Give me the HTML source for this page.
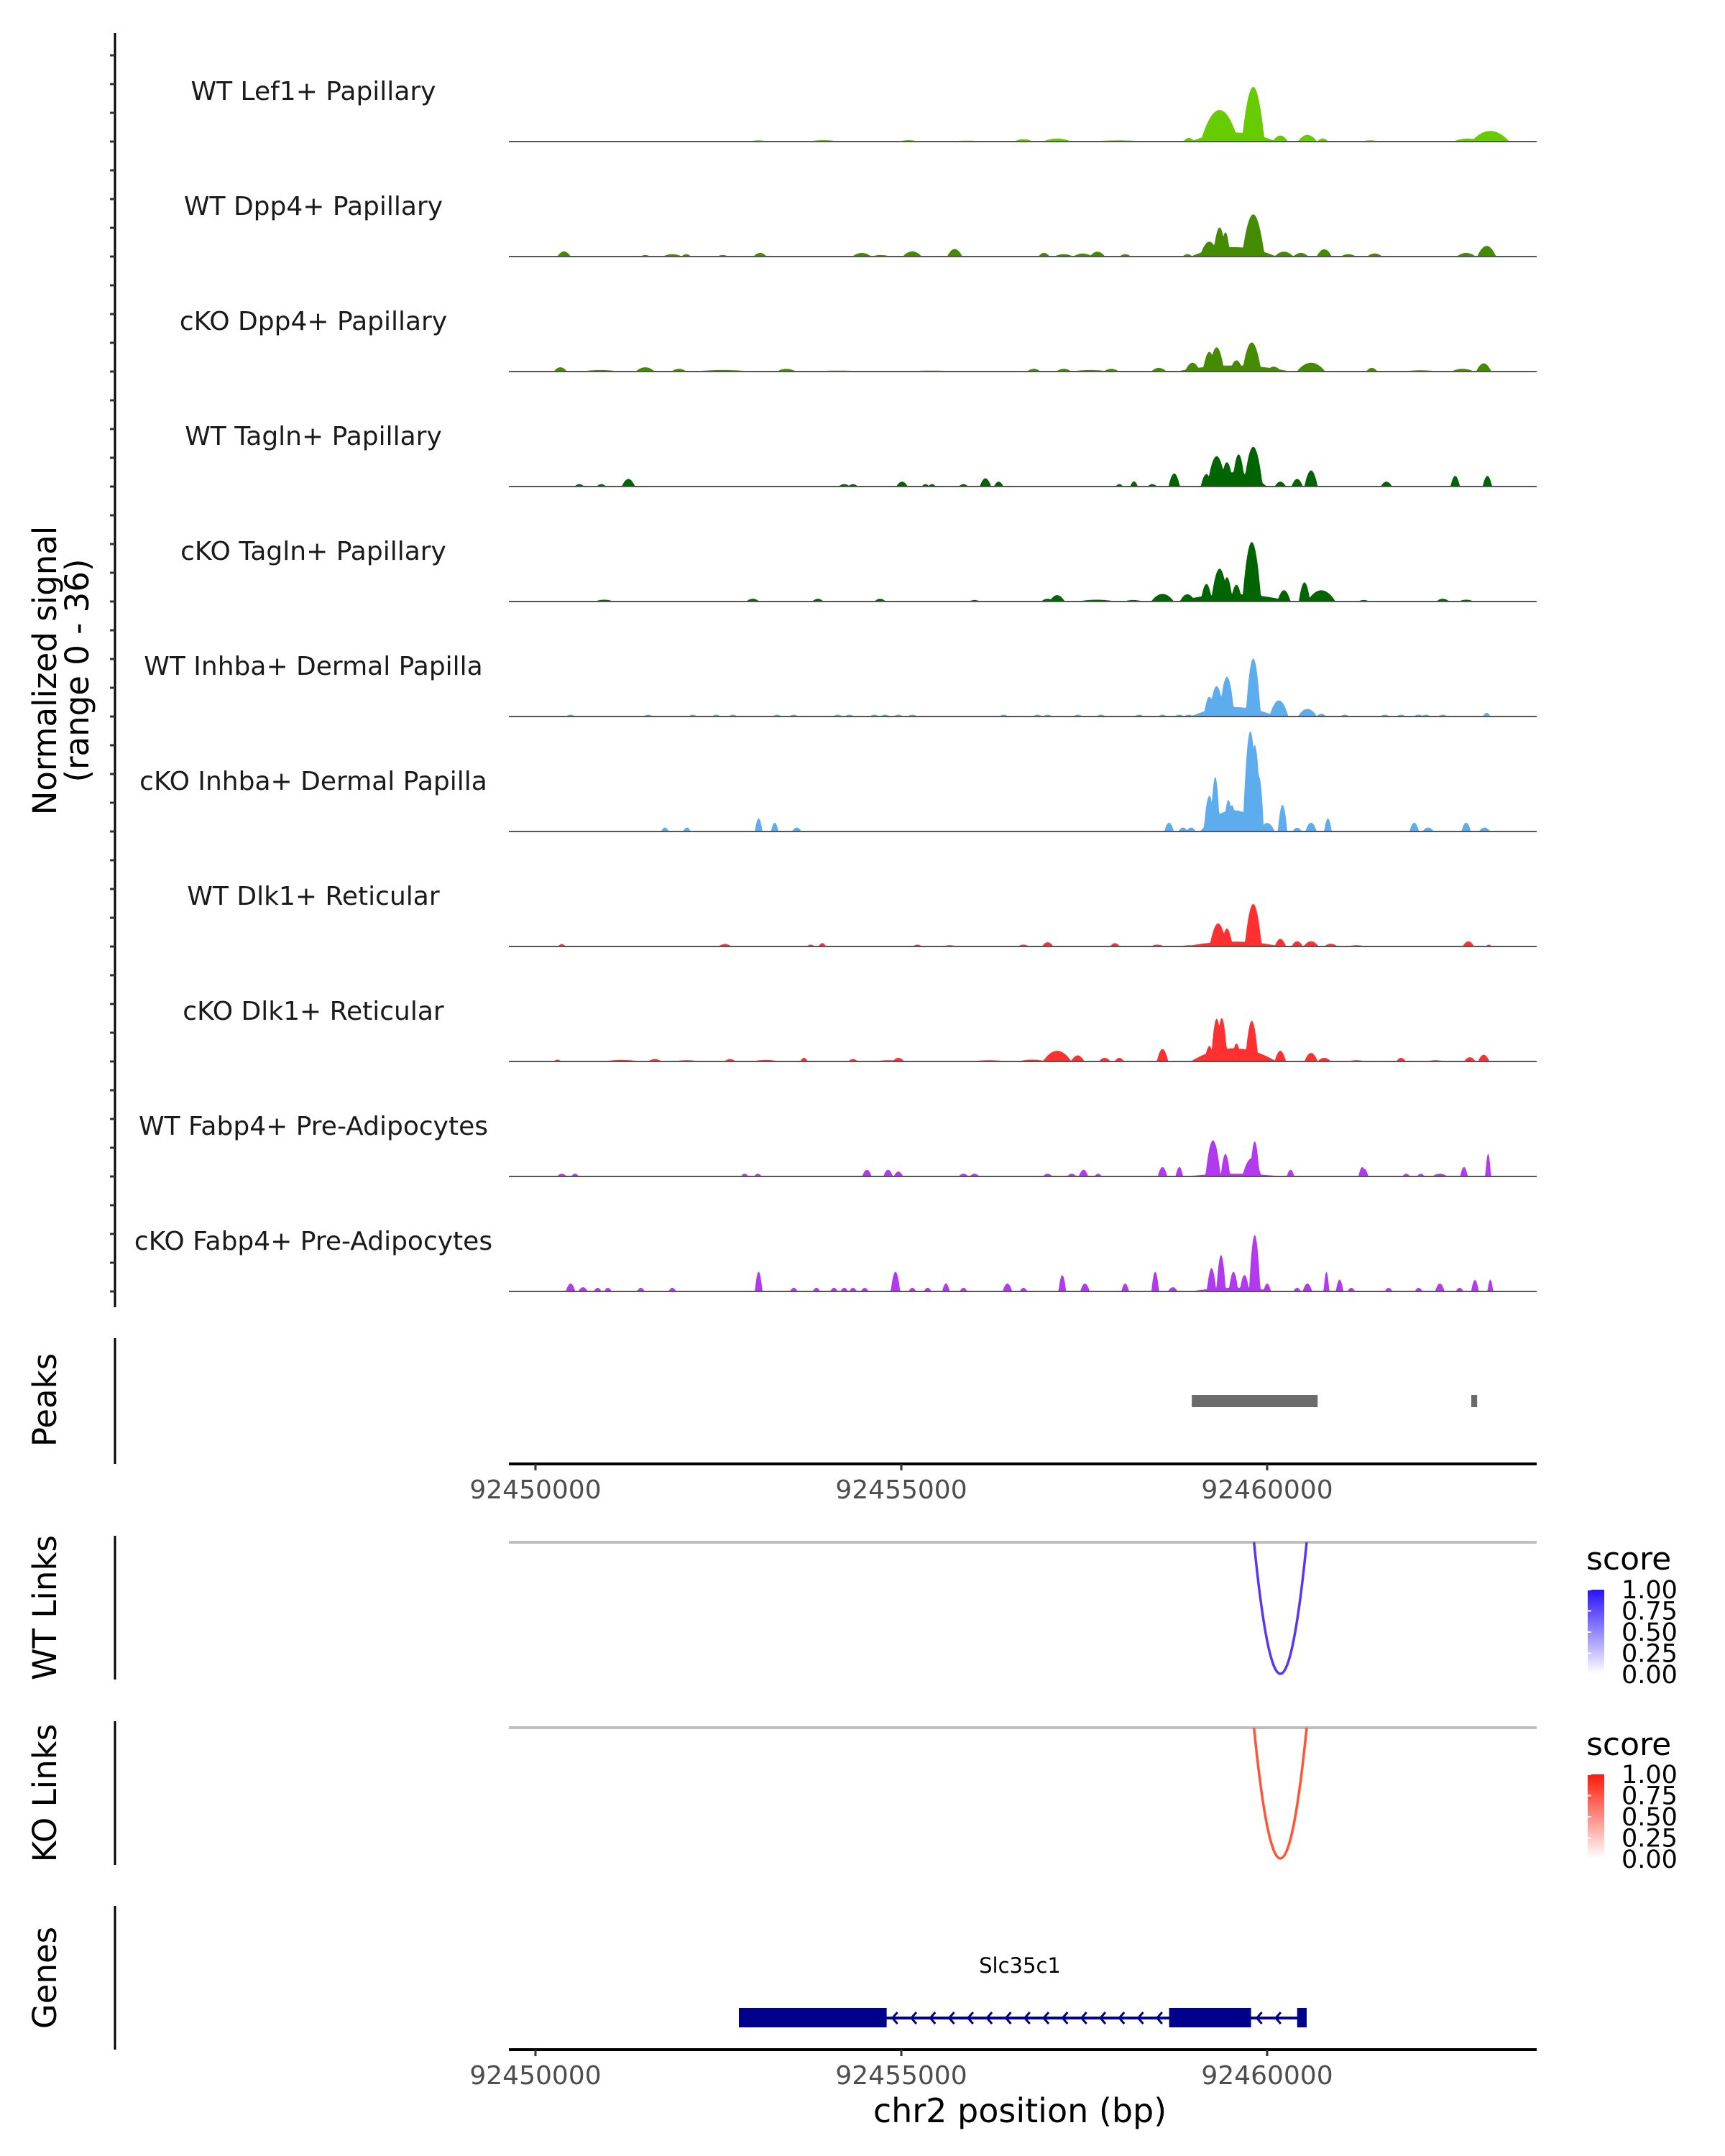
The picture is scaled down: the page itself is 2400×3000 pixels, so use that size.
<!DOCTYPE html>
<html><head><meta charset="utf-8"><style>
html,body{margin:0;padding:0;background:#fff;}
svg{display:block;font-family:"DejaVu Sans","Liberation Sans",sans-serif;}
</style></head><body>
<svg id="fig" width="2400" height="3000" viewBox="0 0 2400 3000" xmlns="http://www.w3.org/2000/svg">
<defs>
<linearGradient id="gBlue" x1="0" y1="1" x2="0" y2="0"><stop offset="0" stop-color="#ffffff"/><stop offset="1" stop-color="#2a10ff"/></linearGradient>
<linearGradient id="gRed" x1="0" y1="1" x2="0" y2="0"><stop offset="0" stop-color="#ffffff"/><stop offset="1" stop-color="#ff1a08"/></linearGradient>
</defs>
<text transform="translate(78,933) rotate(-90)" text-anchor="middle" font-size="45" fill="#000">Normalized signal</text>
<text transform="translate(123,933) rotate(-90)" text-anchor="middle" font-size="45" fill="#000">(range 0 - 36)</text>
<line x1="160" y1="46" x2="160" y2="1819" stroke="#000" stroke-width="3"/>
<text transform="translate(78,1948) rotate(-90)" text-anchor="middle" font-size="45">Peaks</text>
<line x1="160" y1="1862" x2="160" y2="2037" stroke="#000" stroke-width="3"/>
<text transform="translate(78,2237) rotate(-90)" text-anchor="middle" font-size="45">WT Links</text>
<line x1="160" y1="2137" x2="160" y2="2337" stroke="#000" stroke-width="3"/>
<text transform="translate(78,2495) rotate(-90)" text-anchor="middle" font-size="45">KO Links</text>
<line x1="160" y1="2395" x2="160" y2="2595" stroke="#000" stroke-width="3"/>
<text transform="translate(78,2752) rotate(-90)" text-anchor="middle" font-size="45">Genes</text>
<line x1="160" y1="2652" x2="160" y2="2852" stroke="#000" stroke-width="3"/>
<text x="1419" y="2953" text-anchor="middle" font-size="46">chr2 position (bp)</text>
<g>
<text x="2207" y="2184" font-size="44">score</text>
<rect x="2209" y="2212" width="23" height="117" fill="url(#gBlue)"/>
</g>
<g>
<text x="2207" y="2442" font-size="44">score</text>
<rect x="2209" y="2469" width="23" height="117" fill="url(#gRed)"/>
</g>
<g id="dyn"></g>
</svg>
<script>
const trackNames = ["WT Lef1+ Papillary","WT Dpp4+ Papillary","cKO Dpp4+ Papillary","WT Tagln+ Papillary","cKO Tagln+ Papillary","WT Inhba+ Dermal Papilla","cKO Inhba+ Dermal Papilla","WT Dlk1+ Reticular","cKO Dlk1+ Reticular","WT Fabp4+ Pre-Adipocytes","cKO Fabp4+ Pre-Adipocytes"];
const trackColors = ["#66cc00","#458b00","#458b00","#006400","#006400","#5cacee","#5cacee","#ff3030","#ff3030","#b23aee","#b23aee"];
// peaks: [kb offset from 92450000, signal, half-width kb]
const lef1WT = [[9.81,18,.12],[9.35,10.4,.2],[9.54,3.0,.45],[10.18,2,.08],[10.55,2.2,.1],[8.93,1.2,.06],[10.76,1,.06],[7.13,1,.15],[6.67,.8,.1],[13.05,3.5,.2],[12.74,1,.15],[5.10,.5,.1],[3.94,.5,.15],[3.05,.4,.1],[7.97,.4,.3],[11.41,.4,.1],[5.9,.3,.2]];
const dpp4WT = [[9.81,13.9,.12],[9.35,9.6,.07],[9.43,8,.05],[9.21,4.9,.1],[9.54,3.1,.45],[10.78,2.4,.08],[10.23,1.6,.1],[10.46,1.2,.08],[11.47,1,.08],[11.11,.8,.08],[13.0,3.5,.1],[12.72,1.2,.1],[0.39,1.7,.07],[5.73,2.5,.08],[5.15,1.7,.1],[4.46,1.2,.1],[3.07,1.2,.07],[7.68,1.6,.08],[7.22,.8,.1],[6.95,1.2,.06],[8.06,.8,.06],[8.91,.8,.05],[1.87,.8,.1],[2.06,.8,.05],[1.5,.5,.05],[2.56,.5,.06],[4.72,.5,.1],[7.48,1,.1]];
const dpp4KO = [[9.79,9.6,.1],[9.31,8,.08],[9.21,6.5,.07],[9.58,3.7,.07],[8.98,2.9,.08],[9.54,2,.6],[10.6,2.9,.15],[10.09,1.6,.08],[12.96,2.7,.08],[12.67,.9,.12],[0.34,1.4,.07],[1.5,1.4,.1],[1.96,.9,.08],[3.43,.9,.1],[6.81,.9,.07],[7.22,.9,.08],[7.87,.9,.08],[8.52,1.2,.08],[11.43,1.2,.06],[0.89,.5,.2],[2.56,.5,.3],[4.13,.3,.3],[5.41,.3,.3],[7.58,.5,.2],[12.1,.4,.2]];
const taglnWT = [[9.81,13.1,.1],[9.61,10.6,.07],[9.31,10,.1],[9.45,8,.07],[9.17,4.1,.06],[9.54,4.7,.35],[10.6,5.3,.07],[8.73,4.3,.06],[10.41,2.5,.06],[10.18,1.6,.06],[12.57,3.5,.05],[13.01,3.5,.05],[11.63,1.6,.06],[6.15,2.7,.06],[6.33,1.6,.05],[5.01,1.6,.06],[1.27,2.5,.07],[0.6,.8,.05],[0.9,.8,.05],[4.22,.8,.06],[4.34,.8,.05],[5.33,.8,.04],[5.42,.8,.04],[5.85,.8,.05],[7.98,.8,.04],[8.18,1.7,.04],[8.43,.8,.05]];
const taglnKO = [[9.79,19.6,.1],[9.35,10.8,.09],[9.45,8,.06],[9.58,5.5,.06],[9.17,5.8,.06],[9.54,2.4,.6],[10.51,6.3,.06],[10.74,3.7,.15],[10.23,3.7,.07],[8.57,2.5,.12],[8.91,2.4,.08],[7.13,2.1,.08],[7.0,.9,.07],[2.97,.9,.07],[3.86,.9,.06],[4.71,.9,.06],[0.94,.6,.1],[12.4,.9,.07],[12.72,.6,.08],[6.0,.5,.06],[7.67,.6,.2],[8.17,.5,.1],[11.32,.5,.06]];
const inhbaWT = [[9.81,19.1,.08],[9.45,13.1,.08],[9.31,10,.08],[9.21,6.5,.06],[9.54,3.1,.45],[10.16,5.3,.1],[10.55,2.5,.1],[10.74,.9,.05],[13.0,1.2,.04]];
const inhbaWTSmall = [0.48,1.54,2.15,2.47,2.7,3.3,3.53,4.13,4.29,4.63,4.78,4.96,5.15,6.4,6.86,7.0,7.41,7.73,8.25,8.57,8.8,8.93,11.06,11.61,11.83,12.07,12.17,12.4];
const inhbaKO = [[9.77,33,.08],[9.83,28.5,.07],[9.89,18,.05],[9.29,18,.05],[9.21,11.8,.06],[9.47,10.4,.05],[9.52,8.7,.05],[9.54,7,.35],[10.0,2.8,.08],[10.21,8.8,.05],[10.6,2.9,.06],[10.83,4.3,.04],[10.41,1.2,.05],[8.66,2.9,.05],[8.85,1.3,.05],[8.96,1.3,.05],[3.05,4.3,.04],[3.27,2.9,.04],[3.57,1.3,.05],[1.77,1.3,.04],[2.07,1.3,.04],[12.01,2.9,.05],[12.2,1.3,.06],[12.72,2.9,.05],[12.97,1.3,.06]];
const dlk1WT = [[9.81,14,.09],[9.33,7.6,.09],[9.45,5.9,.06],[9.54,1.6,.5],[10.18,2.5,.06],[10.41,1.7,.06],[10.6,1.7,.08],[10.87,.9,.07],[12.75,1.7,.06],[13.03,.6,.03],[7.0,1.4,.06],[7.92,1.1,.05],[8.5,.6,.07],[6.67,.6,.06],[5.22,.6,.05],[3.92,1.1,.04],[3.76,.6,.04],[2.59,.8,.07],[0.36,.8,.04],[5.66,.4,.08],[8.93,.4,.1],[11.22,.4,.1]];
const dlk1KO = [[9.38,14.3,.06],[9.31,14.1,.06],[9.79,13.4,.07],[9.21,5.1,.05],[9.54,4.3,.45],[9.58,5.9,.05],[8.57,4.1,.06],[7.13,3.5,.15],[7.41,2,.07],[7.78,1.2,.06],[7.98,1.2,.05],[10.18,3.5,.06],[10.6,2.8,.07],[10.78,1.2,.07],[12.96,2.2,.06],[12.77,1.4,.06],[11.83,1.2,.05],[4.96,1.2,.06],[3.67,1.2,.04],[4.34,.8,.05],[2.66,.8,.06],[1.63,.8,.07],[0.3,.6,.04],[1.18,.5,.2],[2.07,.4,.15],[3.15,.5,.15],[4.82,.4,.15],[6.2,.4,.2],[6.79,.6,.15],[11.22,.4,.1],[12.3,.4,.1]];
const fabp4WT = [[9.26,11.9,.08],[9.83,11.6,.05],[9.43,7.4,.05],[9.79,6,.1],[9.54,.9,.5],[8.57,3.1,.05],[8.8,3.1,.04],[13.02,7.5,.03],[12.69,3.1,.04],[10.32,2.2,.04],[11.3,3.1,.04],[11.33,2.5,.04],[11.9,.9,.04],[12.1,.9,.04],[12.36,.9,.08],[4.53,2.2,.05],[4.82,2.2,.05],[4.96,1.6,.05],[7.49,2.2,.05],[7.0,.9,.05],[7.69,.9,.04],[5.85,.9,.05],[6.0,.9,.05],[0.36,.9,.05],[0.54,.9,.04],[2.86,.9,.04],[3.04,.9,.04],[7.33,.9,.05]];
const fabp4KO = [[9.83,18.6,.06],[9.37,12,.05],[9.54,6.5,.05],[9.24,7.7,.05],[9.69,5.4,.05],[9.54,1.2,.45],[8.47,6.5,.04],[7.2,5.4,.04],[4.92,6.5,.05],[3.05,6.5,.04],[10.81,6.5,.03],[10.99,3.9,.04],[10.55,2.6,.05],[10.0,2.6,.04],[13.05,3.9,.03],[12.84,3.8,.04],[12.36,2.6,.05],[7.51,2.6,.05],[8.06,2.6,.04],[8.71,1.4,.05],[6.45,2.6,.05],[5.61,2.6,.04],[0.48,2.6,.05],[0.65,1.4,.05]];
const fabp4KOSmall = [0.85,0.99,1.44,1.87,3.53,3.84,4.08,4.22,4.34,4.5,5.15,5.36,5.85,6.67,10.41,11.15,11.66,12.07,12.63];
const peakRegions = [[8.97,10.69],[12.79,12.87]];
const wtLinks = [[9.82,10.54,0.8]];
const koLinks = [[9.82,10.54,0.8]];
const geneExons = [[2.78,4.80],[8.66,9.78],[10.41,10.54]];
const geneSpan = [2.78,10.54];
const xTicks = [92450000,92455000,92460000];
const legendTicks = ["1.00","0.75","0.50","0.25","0.00"];
const yMax = 36;

const trackPeaks = [lef1WT,dpp4WT,dpp4KO,taglnWT,taglnKO,
  inhbaWT.concat(inhbaWTSmall.map(p=>[p,0.6,0.05])),
  inhbaKO,dlk1WT,dlk1KO,fabp4WT,
  fabp4KO.concat(fabp4KOSmall.map(p=>[p,1.2,0.04]))];

const NS="http://www.w3.org/2000/svg";
const root=document.getElementById('dyn');
const PX0=708, PX1=2138;
const xKb = kb => 745 + kb*101.8;
const xBp = bp => xKb((bp-92450000)/1000);
const base = i => 197 + 160*i;
const ySig = (i,v) => base(i) - v*152/yMax;
function mk(tag,attrs,parent){const e=document.createElementNS(NS,tag);for(const k in attrs)e.setAttribute(k,attrs[k]);(parent||root).appendChild(e);return e;}

for(let i=0;i<trackNames.length;i++){
  for(let k=0;k<4;k++){
    const t=mk('line',{x1:153,x2:160,y1:base(i)-40*k,y2:base(i)-40*k,stroke:'#333',"stroke-width":3});
    
    
  }
}
trackNames.forEach((name,i)=>{
  const g=mk('g',{});
  
  
  const lbl=mk('text',{x:436,y:base(i)-58,"text-anchor":"middle","font-size":36,fill:'#1a1a1a'},g);
  lbl.textContent=name;
  
  
  const pk=trackPeaks[i];
  let pts=[PX0+','+base(i)];
  for(let px=PX0;px<=PX1;px+=1){
    const kb=(px-745)/101.8;
    let v=0;
    for(const p of pk){const w=p[2]*1.3;const d=Math.abs(kb-p[0]);if(d<w){const r=d/w;const h=p[1]*(1-r*r);if(h>v)v=h;}}
    pts.push(px+','+ySig(i,v).toFixed(1));
  }
  pts.push(PX1+','+base(i));
  const poly=mk('polygon',{points:pts.join(' '),fill:trackColors[i]},g);
  
  
  const bl=mk('line',{x1:PX0,x2:PX1,y1:base(i),y2:base(i),stroke:'#555',"stroke-width":2},g);
  
  
});
peakRegions.forEach(r=>{
  const e=mk('rect',{x:xKb(r[0]),y:1941,width:Math.max(6,xKb(r[1])-xKb(r[0])),height:17,fill:'#6b6b6b'});
  
  
});
[2037,2852].forEach((y,ai)=>{
  const ax=mk('line',{x1:PX0,x2:PX1,y1:y,y2:y,stroke:'#000',"stroke-width":4});
  
  
  xTicks.forEach(t=>{
    const tk=mk('line',{x1:xBp(t),x2:xBp(t),y1:y,y2:y+9,stroke:'#333',"stroke-width":3});
    
    
    const tl=mk('text',{x:xBp(t),y:y+48,"text-anchor":"middle","font-size":36,fill:'#4d4d4d'});
    tl.textContent=String(t);
    
    
  });
});
function drawLinks(links,topY,depth,color,nm){
  const gl=mk('line',{x1:PX0,x2:PX1,y1:topY,y2:topY,stroke:'#bebebe',"stroke-width":4});
  
  
  links.forEach(l=>{
    const a=xKb(l[0]),b=xKb(l[1]);
    const p=mk('path',{d:`M${a},${topY} Q${(a+b)/2},${topY+2*depth} ${b},${topY}`,fill:'none',stroke:color,"stroke-width":3.5});
    
    
  });
}
drawLinks(wtLinks,2146,183,'#5a35f2','wt-link');
drawLinks(koLinks,2404,182,'#ff5436','ko-link');
[[2212,'wt'],[2469,'ko']].forEach(([y0,nm])=>{
  legendTicks.forEach((t,k)=>{
    const y=y0+k*29.5;
    const tx=mk('text',{x:2256,y:y+12,"font-size":35,fill:'#000'});
    tx.textContent=t;
    
    
    const w=mk('line',{x1:2209,x2:2214,y1:y,y2:y,stroke:'#fff',"stroke-width":2});
    
    
  });
});
const gLabel=mk('text',{x:1419,y:2745,"text-anchor":"middle","font-size":29});
gLabel.textContent='Slc35c1';


const gline=mk('line',{x1:xKb(geneSpan[0]),x2:xKb(geneSpan[1]),y1:2808,y2:2808,stroke:'#00008b',"stroke-width":4});


for(let i=0;i+1<geneExons.length;i++){
  const s=xKb(geneExons[i][1]), e=xKb(geneExons[i+1][0]);
  for(let x=s+8;x<e-12;x+=26.3){
    const c=mk('polyline',{points:`${x+7},${2800} ${x},${2808} ${x+7},${2816}`,fill:'none',stroke:'#00008b',"stroke-width":3});
    
    
  }
}
geneExons.forEach(ex=>{
  const r=mk('rect',{x:xKb(ex[0]),y:2794,width:xKb(ex[1])-xKb(ex[0]),height:27,fill:'#00008b'});
  
  
});
</script>
</body></html>
